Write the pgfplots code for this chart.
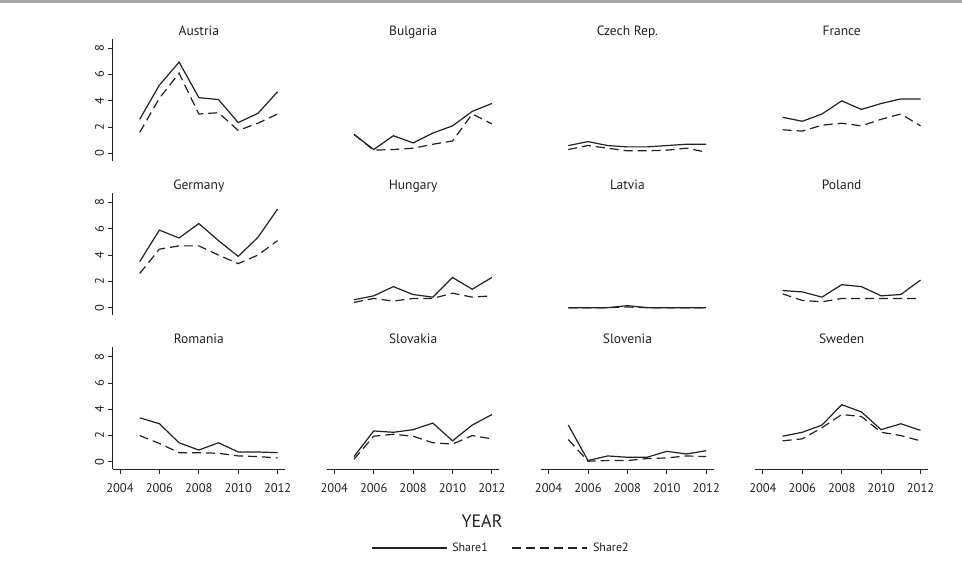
\documentclass[border=0pt]{standalone}
\usepackage{pgfplots}
\pgfplotsset{compat=1.18}
\usepackage{fontspec}
\setmainfont{PT Sans}
\definecolor{ink}{HTML}{222222}
\pgfplotsset{
  panel/.style={
    scale only axis, width=172.6pt, height=121.6pt,
    xmin=2003.62, xmax=2012.38, ymin=-0.55, ymax=8.7,
    anchor=south west, clip=false,
    axis x line*=bottom, axis y line*=left,
    x axis line style={-}, y axis line style={-},
    axis line style={line width=0.9pt, color=ink},
    tick style={line width=0.9pt, color=ink},
    tick align=outside, major tick length=5pt,
    xtick={2004,2006,...,2012}, ytick={0,2,4,6,8},
    /pgf/number format/assume math mode=true,
    /pgf/number format/1000 sep={},
    ticklabel style={font=\fontsize{12.5}{12.5}\selectfont, color=ink},
    yticklabel style={rotate=90, anchor=south},
    xticklabel style={yshift=-6pt},
    title style={font=\fontsize{13.5}{13.5}\selectfont, color=ink, at={(0.5,1)}, anchor=base, yshift=-2.5pt},
  },
  s1/.style={ink, line width=1.2pt, solid},
  s2/.style={ink, line width=1.2pt, dash pattern=on 9pt off 5pt},
}
\begin{document}
\begin{tikzpicture}[x=1pt,y=1pt]
\useasboundingbox (0,0) rectangle (962,561);
\fill[white] (0,0) rectangle (962,561);
\draw[black!35, line width=2.5pt] (0,559.5) -- (962,559.5);
% Row 1
\begin{axis}[panel, at={(112.5pt,400.3pt)}, hide x axis, title={Austria}]
\addplot[s1] coordinates {(2005,2.6)(2006,5.2)(2007,6.95)(2008,4.25)(2009,4.1)(2010,2.35)(2011,3.05)(2012,4.7)};
\addplot[s2] coordinates {(2005,1.6)(2006,4.2)(2007,6.1)(2008,3.0)(2009,3.1)(2010,1.75)(2011,2.3)(2012,3.0)};
\end{axis}
\begin{axis}[panel, at={(326.8pt,400.3pt)}, hide x axis, hide y axis, title={Bulgaria}]
\addplot[s1] coordinates {(2005,1.45)(2006,0.3)(2007,1.35)(2008,0.8)(2009,1.55)(2010,2.1)(2011,3.2)(2012,3.8)};
\addplot[s2] coordinates {(2005,1.45)(2006,0.25)(2007,0.3)(2008,0.4)(2009,0.7)(2010,0.95)(2011,3.0)(2012,2.25)};
\end{axis}
\begin{axis}[panel, at={(541.1pt,400.3pt)}, hide x axis, hide y axis, title={Czech Rep.}]
\addplot[s1] coordinates {(2005,0.6)(2006,0.9)(2007,0.6)(2008,0.5)(2009,0.5)(2010,0.6)(2011,0.7)(2012,0.7)};
\addplot[s2] coordinates {(2005,0.3)(2006,0.6)(2007,0.4)(2008,0.2)(2009,0.2)(2010,0.25)(2011,0.4)(2012,0.1)};
\end{axis}
\begin{axis}[panel, at={(755.4pt,400.3pt)}, hide x axis, hide y axis, title={France}]
\addplot[s1] coordinates {(2005,2.75)(2006,2.45)(2007,3.0)(2008,4.0)(2009,3.35)(2010,3.8)(2011,4.15)(2012,4.15)};
\addplot[s2] coordinates {(2005,1.8)(2006,1.7)(2007,2.15)(2008,2.3)(2009,2.1)(2010,2.6)(2011,3.0)(2012,2.1)};
\end{axis}
% Row 2
\begin{axis}[panel, at={(112.5pt,246.1pt)}, hide x axis, title={Germany}]
\addplot[s1] coordinates {(2005,3.5)(2006,5.9)(2007,5.3)(2008,6.4)(2009,5.1)(2010,3.9)(2011,5.35)(2012,7.5)};
\addplot[s2] coordinates {(2005,2.6)(2006,4.45)(2007,4.7)(2008,4.7)(2009,4.0)(2010,3.35)(2011,4.0)(2012,5.1)};
\end{axis}
\begin{axis}[panel, at={(326.8pt,246.1pt)}, hide x axis, hide y axis, title={Hungary}]
\addplot[s1] coordinates {(2005,0.6)(2006,0.9)(2007,1.6)(2008,1.0)(2009,0.8)(2010,2.3)(2011,1.4)(2012,2.3)};
\addplot[s2] coordinates {(2005,0.4)(2006,0.7)(2007,0.5)(2008,0.7)(2009,0.7)(2010,1.1)(2011,0.8)(2012,0.9)};
\end{axis}
\begin{axis}[panel, at={(541.1pt,246.1pt)}, hide x axis, hide y axis, title={Latvia}]
\addplot[s1] coordinates {(2005,0)(2006,0)(2007,0)(2008,0.15)(2009,0)(2010,0)(2011,0)(2012,0)};
\addplot[s2] coordinates {(2005,0)(2006,0)(2007,0)(2008,0.05)(2009,0)(2010,0)(2011,0)(2012,0)};
\end{axis}
\begin{axis}[panel, at={(755.4pt,246.1pt)}, hide x axis, hide y axis, title={Poland}]
\addplot[s1] coordinates {(2005,1.3)(2006,1.2)(2007,0.8)(2008,1.75)(2009,1.6)(2010,0.9)(2011,1.0)(2012,2.1)};
\addplot[s2] coordinates {(2005,1.05)(2006,0.55)(2007,0.45)(2008,0.7)(2009,0.7)(2010,0.7)(2011,0.7)(2012,0.7)};
\end{axis}
% Row 3
\begin{axis}[panel, at={(112.5pt,91.9pt)}, title={Romania},
  legend style={at={(rel axis cs:2.25,-0.649)}, anchor=center, draw=none, fill=none,
    legend columns=2, font=\fontsize{12}{12}\selectfont, text=ink,
    /tikz/every even column/.append style={column sep=22pt},
    /tikz/every odd column/.append style={column sep=3pt}},
  legend cell align=left,
  legend image code/.code={\draw[#1] (0pt,0pt) -- (75pt,0pt);}]
\addplot[s1] coordinates {(2005,3.35)(2006,2.9)(2007,1.45)(2008,0.9)(2009,1.45)(2010,0.75)(2011,0.75)(2012,0.7)};
\addplot[s2] coordinates {(2005,2.0)(2006,1.4)(2007,0.7)(2008,0.7)(2009,0.65)(2010,0.45)(2011,0.4)(2012,0.3)};
\legend{Share1,Share2}
\end{axis}
\begin{axis}[panel, at={(326.8pt,91.9pt)}, hide y axis, title={Slovakia}]
\addplot[s1] coordinates {(2005,0.4)(2006,2.35)(2007,2.25)(2008,2.45)(2009,2.95)(2010,1.6)(2011,2.8)(2012,3.6)};
\addplot[s2] coordinates {(2005,0.2)(2006,1.95)(2007,2.1)(2008,1.95)(2009,1.45)(2010,1.35)(2011,2.0)(2012,1.75)};
\end{axis}
\begin{axis}[panel, at={(541.1pt,91.9pt)}, hide y axis, title={Slovenia}]
\addplot[s1] coordinates {(2005,2.8)(2006,0.1)(2007,0.45)(2008,0.35)(2009,0.35)(2010,0.8)(2011,0.6)(2012,0.85)};
\addplot[s2] coordinates {(2005,1.7)(2006,0.05)(2007,0.1)(2008,0.1)(2009,0.25)(2010,0.3)(2011,0.45)(2012,0.4)};
\end{axis}
\begin{axis}[panel, at={(755.4pt,91.9pt)}, hide y axis, title={Sweden}]
\addplot[s1] coordinates {(2005,1.95)(2006,2.25)(2007,2.8)(2008,4.35)(2009,3.8)(2010,2.45)(2011,2.9)(2012,2.4)};
\addplot[s2] coordinates {(2005,1.6)(2006,1.75)(2007,2.6)(2008,3.6)(2009,3.45)(2010,2.25)(2011,2.0)(2012,1.6)};
\end{axis}
\node[font=\fontsize{18}{18}\selectfont, color=ink] at (482,40) {YEAR};
\end{tikzpicture}
\end{document}
